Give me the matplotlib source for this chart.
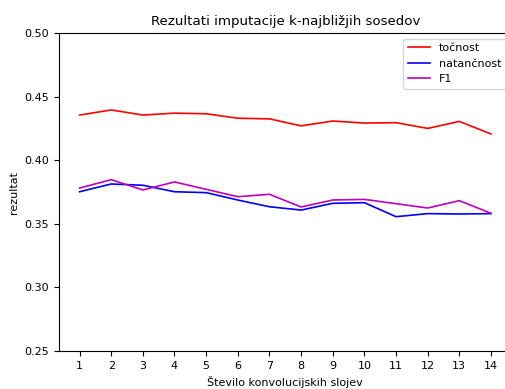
import numpy as np
import matplotlib.pyplot as plt

#--- data
sloji = list(range(1, 15))
tocnost = [0.4355, 0.4395, 0.4355, 0.4370, 0.4365, 0.4330, 0.4325,
           0.4270, 0.4308, 0.4292, 0.4295, 0.4250, 0.4305, 0.4206]
natancnost = [0.3752, 0.3813, 0.3803, 0.3752, 0.3745, 0.3687, 0.3634,
              0.3608, 0.3661, 0.3666, 0.3556, 0.3580, 0.3577, 0.3580]
f1 = [0.3781, 0.3847, 0.3766, 0.3829, 0.3771, 0.3713, 0.3732,
      0.3632, 0.3687, 0.3692, 0.3658, 0.3624, 0.3682, 0.3583]

fig = plt.figure(figsize=(5.06, 3.89), dpi=100)
ax = fig.add_axes([59/506, 1-351/389, (511.5-59)/506, (351-33)/389])

ax.plot(sloji, tocnost, color='r', lw=1.2, label='točnost')
ax.plot(sloji, natancnost, color='b', lw=1.2, label='natančnost')
ax.plot(sloji, f1, color='m', lw=1.2, label='F1')

ax.set_xlim(0.35, 14.65)
ax.set_ylim(0.25, 0.50)
ax.set_xticks(sloji)
ax.tick_params(labelsize=8)
ax.set_title('Rezultati imputacije k-najbližjih sosedov', fontsize=9.6)
ax.set_xlabel('Število konvolucijskih slojev', fontsize=8)
ax.set_ylabel('rezultat', fontsize=8)
ax.legend(loc='upper right', fontsize=8)

fig.savefig('out.png', dpi=100)
